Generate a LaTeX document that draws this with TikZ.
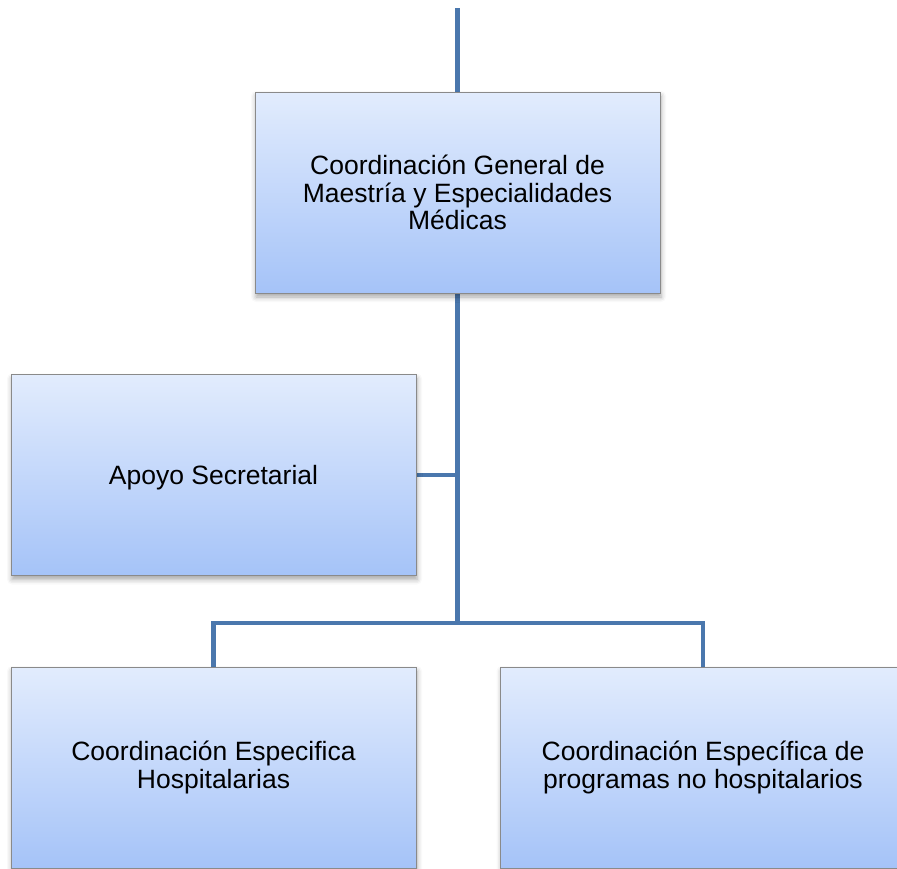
\documentclass[tikz,border=0pt]{standalone}
\usepackage{fontspec}
\setmainfont{Liberation Sans}
\usetikzlibrary{shadows.blur,backgrounds}
\definecolor{linkblue}{HTML}{4A77AD}
\definecolor{boxtop}{HTML}{E2ECFD}
\definecolor{boxbot}{HTML}{A5C3F8}
\definecolor{boxedge}{HTML}{8A8A8A}
\tikzset{
  orgbox/.style={draw=boxedge, line width=0.8pt, top color=boxtop, bottom color=boxbot,
    minimum width=405pt, minimum height=201pt, inner sep=0pt, align=center,
    font=\fontsize{26.5}{27.5}\selectfont,
    blur shadow={shadow xshift=1pt, shadow yshift=-4pt, shadow blur radius=5pt, shadow opacity=35}},
  link/.style={draw=linkblue, line width=4.2pt}
}
\begin{document}
\begin{tikzpicture}[x=1pt,y=-1pt]
  \useasboundingbox (0,0) rectangle (897,868);
  % boxes of the organisation chart
  \node[orgbox] (general) at (457.5,192.5) {Coordinación General de\\Maestría y Especialidades\\Médicas};
  \node[orgbox] (apoyo) at (213.5,475) {\raisebox{-3pt}[\height][\depth]{Apoyo Secretarial}};
  \node[orgbox] (hosp) at (213.5,767.5) {Coordinación Especifica\\Hospitalarias};
  \node[orgbox] (nohosp) at (703,767.5) {Coordinación Específica de\\programas no hospitalarios};
  % free end above the chart and the junction of the lower branches
  \coordinate (topend) at (general.north |- 0,8);
  \coordinate (bus) at (general.south |- 0,623);
  % connectors, kept behind the boxes
  \begin{pgfonlayer}{background}
    \draw[link] (topend) -- (general.north);
    \draw[link] (general.south) -- (bus);
    \draw[link] (apoyo.east) -- (apoyo.east -| bus);
    \draw[link] (hosp.north) |- (bus) -| (nohosp.north);
  \end{pgfonlayer}
\end{tikzpicture}
\end{document}
